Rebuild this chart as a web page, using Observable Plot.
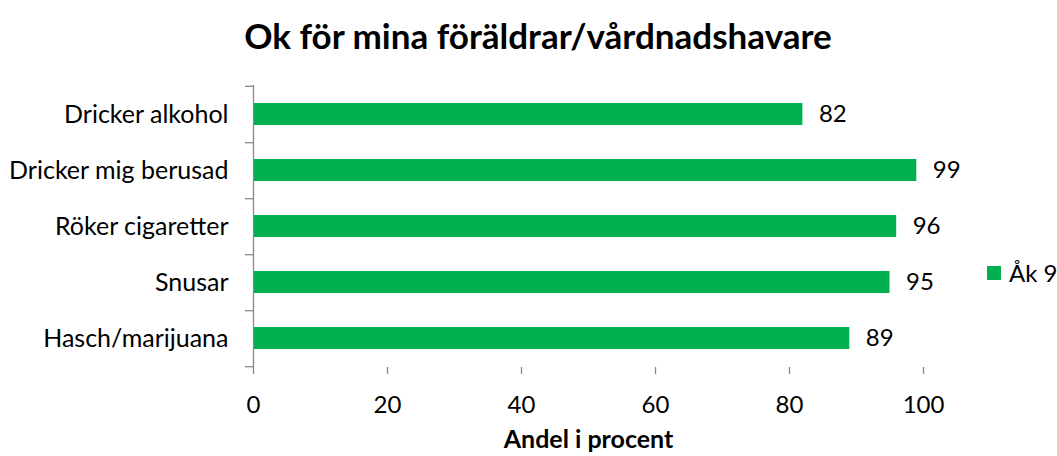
<!DOCTYPE html>
<html>
<head>
<meta charset="utf-8">
<script src="https://cdn.jsdelivr.net/npm/d3@7"></script>
<script src="https://cdn.jsdelivr.net/npm/@observablehq/plot@0.6"></script>
<style>
  html, body { margin: 0; padding: 0; background: #fff; }
  body { width: 1057px; height: 456px; position: relative; overflow: hidden; font-family: Lato, "Open Sans", sans-serif; color: #000; }
  #title { position: absolute; left: 0; width: 1076px; top: 11px; text-align: center; font-weight: bold; font-size: 35px; line-height: 48px; white-space: nowrap; }
  #chart { position: absolute; left: 0; top: 68px; }
  #legend { position: absolute; left: 987px; top: 259px; display: flex; align-items: center; font-size: 24px; line-height: 28px; white-space: nowrap; }
  #legend .sw { width: 14px; height: 14px; background: #00B050; margin-right: 8px; flex: none; }
</style>
</head>
<body>
<div id="title">Ok för mina föräldrar/vårdnadshavare</div>
<div id="chart"></div>
<div id="legend"><span class="sw"></span><span>Åk 9</span></div>
<script>
const categories = ["Dricker alkohol", "Dricker mig berusad", "Röker cigaretter", "Snusar", "Hasch/marijuana"];
const values = [82, 99, 96, 95, 89];
const xTicks = [0, 20, 40, 60, 80, 100];
const seriesName = "Åk 9";
const xLabel = "Andel i procent";

const data = categories.map((c, i) => ({category: c, value: values[i], series: seriesName}));

const W = 1057, H = 388;
const mTop = 17, mBottom = 89, mLeft = 253, mRight = 134;
const step = (H - mTop - mBottom) / categories.length;
const axisColor = "#898989";
const green = "#00B050";

const plot = Plot.plot({
  width: W,
  height: H,
  marginTop: mTop,
  marginBottom: mBottom,
  marginLeft: mLeft,
  marginRight: mRight,
  style: {fontFamily: "Lato, 'Open Sans', sans-serif", color: "#000", background: "#fff"},
  x: {domain: [0, 100], ticks: xTicks},
  y: {domain: categories, paddingInner: 0.6, paddingOuter: 0.3, align: 0.5},
  marks: [
    Plot.barX(data, {x: "value", y: "category", fill: green}),
    Plot.text(data, {x: "value", y: "category", text: d => String(d.value), textAnchor: "start", dx: 16, fontSize: 24, fill: "#000"}),
    // y axis line
    Plot.ruleX([0], {stroke: axisColor, strokeWidth: 1.3}),
    // y ticks at band boundaries (below each band, plus above the first)
    Plot.ruleY(categories, {y: d => d, x1: 0, x2: 0, insetLeft: -8, dy: step / 2, stroke: axisColor, strokeWidth: 1.3}),
    Plot.ruleY([categories[0]], {y: d => d, x1: 0, x2: 0, insetLeft: -8, dy: -step / 2, stroke: axisColor, strokeWidth: 1.3}),
    // y labels
    Plot.axisY({tickSize: 0, tickPadding: 25, fontSize: 25, fill: "#000", label: null}),
    // x axis
    Plot.ruleY([0], {frameAnchor: "bottom", stroke: axisColor, strokeWidth: 1.3}),
    Plot.axisX({ticks: xTicks, tickSize: 7, tickPadding: 21, fontSize: 24, stroke: axisColor, strokeWidth: 1.3, fill: "#000", label: null}),
    Plot.text([xLabel], {frameAnchor: "bottom", dy: 80, fontSize: 25, fontWeight: "bold", fill: "#000"})
  ]
});
document.getElementById("chart").appendChild(plot);
</script>
</body>
</html>
